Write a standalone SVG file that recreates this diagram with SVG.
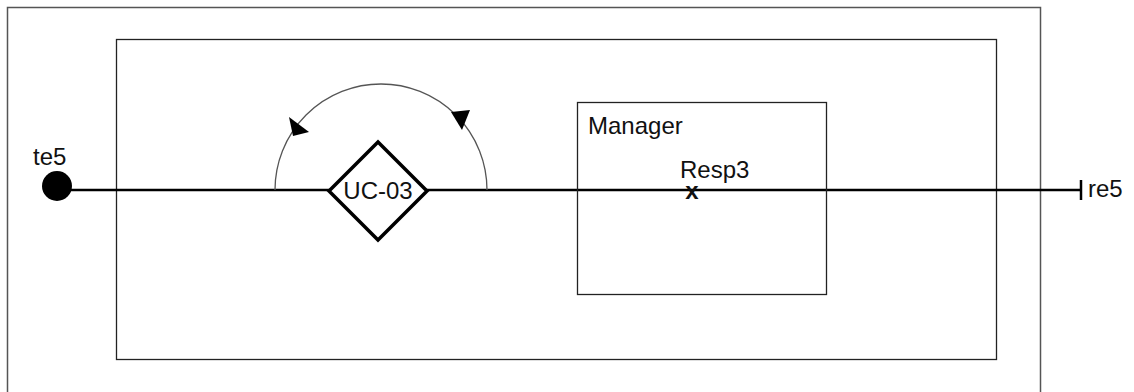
<svg xmlns="http://www.w3.org/2000/svg" width="1134" height="392" viewBox="0 0 1134 392">
  <style>
    .frame { fill: none; stroke: #555; stroke-width: 1.5; }
    .box { fill: none; stroke: #222; stroke-width: 1.3; }
    .wire { fill: none; stroke: #000; stroke-width: 2.5; }
    .arc { fill: none; stroke: #555; stroke-width: 1.3; }
    .head { fill: #000; }
    .lbl { font-family: "Liberation Sans", Arial, sans-serif; font-size: 24px; fill: #111; }
  </style>

  <rect width="1134" height="392" fill="#fff"/>

  <!-- outer boundary and component boundary -->
  <g id="system">
    <rect class="frame" x="7.5" y="7.5" width="1033" height="400"/>
  </g>
  <g id="component">
    <rect class="box" x="116.5" y="39.5" width="880" height="320"/>
  </g>

  <!-- path wire and loop -->
  <g id="connectors">
    <line class="wire" x1="57" y1="190" x2="1081" y2="190"/>
    <line class="wire" x1="1081" y1="180" x2="1081" y2="200"/>
    <path class="arc" d="M487,190 A106,106 0 0 0 275,190"/>
    <polygon class="head" points="451,112 470,110 462,130"/>
    <polygon class="head" points="289,117 309,132 293,136"/>
  </g>

  <g id="te5">
    <circle cx="57" cy="186" r="15" fill="#000"/>
    <text class="lbl" x="33" y="165">te5</text>
  </g>

  <g id="uc03">
    <polygon points="378,142 427,191 378,240 329,191" fill="#fff" stroke="#000" stroke-width="3.5"/>
    <text class="lbl" x="378" y="199" text-anchor="middle">UC-03</text>
  </g>

  <g id="manager">
    <rect class="box" x="577.5" y="102.5" width="249" height="192"/>
    <text class="lbl" x="588" y="134">Manager</text>
  </g>

  <g id="resp3">
    <text class="lbl" x="680" y="178">Resp3</text>
    <text class="lbl" x="692" y="199" text-anchor="middle" font-weight="bold" font-size="18">x</text>
  </g>

  <g id="re5">
    <text class="lbl" x="1088" y="197">re5</text>
  </g>
</svg>
